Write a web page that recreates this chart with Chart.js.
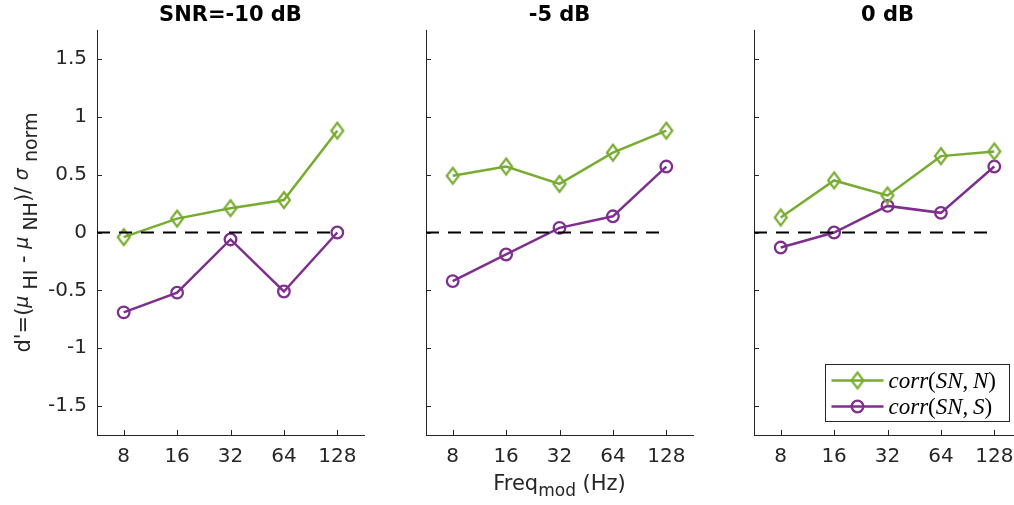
<!DOCTYPE html>
<html>
<head>
<meta charset="utf-8">
<script src="https://cdn.jsdelivr.net/npm/chart.js@4"></script>
<style>
  html, body { margin: 0; padding: 0; background: #fff; overflow: hidden; width: 1014px; height: 505px; position: relative; }
  canvas { position: absolute; top: 0; }
</style>
</head>
<body>
<canvas id="panel1"></canvas>
<canvas id="panel2"></canvas>
<canvas id="panel3"></canvas>
<script>
// ---- data ----
const panelTitles = ['SNR=-10 dB', '-5 dB', '0 dB'];
const freqMod = [8, 16, 32, 64, 128];
const corrSN_N_m10 = [-0.04, 0.12, 0.21, 0.28, 0.88];
const corrSN_S_m10 = [-0.69, -0.52, -0.06, -0.51, 0.00];
const corrSN_N_m5 = [0.49, 0.57, 0.42, 0.69, 0.88];
const corrSN_S_m5 = [-0.42, -0.19, 0.04, 0.14, 0.57];
const corrSN_N_0 = [0.13, 0.45, 0.32, 0.66, 0.70];
const corrSN_S_0 = [-0.13, 0.00, 0.23, 0.17, 0.57];
const yTickValues = [-1.5, -1, -0.5, 0, 0.5, 1, 1.5];
const seriesLabels = ['corr(SN,N)', 'corr(SN,S)'];

// ---- style ----
const GREEN = '#77AC30';
const PURPLE = '#7E2F8E';
const AXIS = '#262626';
const SANS = '"DejaVu Sans", sans-serif';
const SERIF = '"Liberation Serif", "DejaVu Serif", serif';

// MATLAB-style diamond marker (taller than wide)
function diamondMarker(color) {
  const c = document.createElement('canvas');
  c.width = 18; c.height = 22;
  const g = c.getContext('2d');
  g.strokeStyle = color; g.lineWidth = 2.2;
  g.beginPath();
  g.moveTo(9, 3); g.lineTo(15, 11); g.lineTo(9, 19); g.lineTo(3, 11); g.closePath();
  g.stroke();
  return c;
}

const toXY = ys => ys.map((y, i) => ({ x: Math.log2(freqMod[i]), y }));
const xMin = Math.log2(freqMod[0]) - 0.5;
const xMax = Math.log2(freqMod[freqMod.length - 1]) + 0.5;

// draws text where letters are math-italic and punctuation upright
function drawMath(ctx, str, x, y, size) {
  const runs = str.match(/[A-Za-z]+|[^A-Za-z]/g);
  ctx.textAlign = 'left';
  for (const r of runs) {
    const italic = /[A-Za-z]/.test(r);
    ctx.font = (italic ? 'italic ' : '') + size + 'px ' + SERIF;
    ctx.fillText(r, x, y);
    x += ctx.measureText(r).width + (r === ',' ? size * 0.2 : 0);
  }
}

// sequence of text runs with baseline offsets
function drawRuns(ctx, runs, cx, baseline) {
  let total = 0;
  for (const r of runs) { ctx.font = r.font; total += ctx.measureText(r.t).width; }
  let x = cx - total / 2;
  ctx.textAlign = 'left';
  for (const r of runs) {
    ctx.font = r.font;
    ctx.fillText(r.t, x, baseline + (r.dy || 0));
    x += ctx.measureText(r.t).width;
  }
}

const panelDecor = {
  id: 'panelDecor',
  afterDraw(chart, args, opts) {
    const { ctx, chartArea: ca, scales } = chart;
    ctx.save();
    // inward tick marks
    ctx.strokeStyle = AXIS; ctx.lineWidth = 1;
    ctx.beginPath();
    for (const t of scales.y.ticks) {
      const py = Math.round(scales.y.getPixelForValue(t.value)) + 0.5;
      ctx.moveTo(ca.left, py); ctx.lineTo(ca.left + 5, py);
    }
    for (const t of scales.x.ticks) {
      const px = Math.round(scales.x.getPixelForValue(t.value)) + 0.5;
      ctx.moveTo(px, ca.bottom); ctx.lineTo(px, ca.bottom - 5);
    }
    ctx.stroke();

    // panel title
    ctx.fillStyle = '#000';
    ctx.textAlign = 'center';
    ctx.textBaseline = 'alphabetic';
    ctx.font = 'bold 21px ' + SANS;
    ctx.fillText(opts.title, (ca.left + ca.right) / 2, 21);

    ctx.fillStyle = AXIS;
    if (opts.xLabel) {
      const main = '21px ' + SANS, sub = '17px ' + SANS;
      drawRuns(ctx, [
        { t: 'Freq', font: main },
        { t: 'mod', font: sub, dy: 6 },
        { t: ' (Hz)', font: main }
      ], (ca.left + ca.right) / 2, 490);
    }
    if (opts.yLabel) {
      const main = '21px ' + SANS, sub = '19px ' + SANS, greek = 'italic 19px ' + SANS;
      ctx.save();
      ctx.translate(30, (ca.top + ca.bottom) / 2);
      ctx.rotate(-Math.PI / 2);
      drawRuns(ctx, [
        { t: "d'=(", font: main },
        { t: 'μ', font: greek, dy: -2 },
        { t: ' HI', font: sub, dy: 7 },
        { t: ' - ', font: main },
        { t: 'μ', font: greek, dy: -2 },
        { t: ' NH', font: sub, dy: 7 },
        { t: ')/ ', font: main },
        { t: 'σ', font: greek, dy: -2 },
        { t: ' norm', font: sub, dy: 7 }
      ], 0, 0);
      ctx.restore();
    }
    if (opts.legend) {
      const items = chart.data.datasets.filter(d => d.inLegend);
      const w = 184, h = 57;
      const bx = Math.round(ca.right - 12 - w) + 0.5;
      const by = Math.round(ca.bottom - 14 - h) + 0.5;
      ctx.fillStyle = '#fff';
      ctx.fillRect(bx, by, w, h);
      ctx.strokeStyle = AXIS; ctx.lineWidth = 1;
      ctx.strokeRect(bx, by, w, h);
      items.forEach((d, i) => {
        const ry = by + 16 + i * 26;
        ctx.strokeStyle = d.borderColor; ctx.lineWidth = d.borderWidth;
        ctx.beginPath(); ctx.moveTo(bx + 6, ry); ctx.lineTo(bx + 58, ry); ctx.stroke();
        const mx = bx + 32;
        if (d.pointStyle === 'circle') {
          ctx.lineWidth = d.pointBorderWidth;
          ctx.beginPath(); ctx.arc(mx, ry, d.pointRadius, 0, Math.PI * 2); ctx.stroke();
        } else {
          ctx.drawImage(d.pointStyle, mx - d.pointStyle.width / 2, ry - d.pointStyle.height / 2);
        }
        ctx.fillStyle = '#000';
        ctx.textBaseline = 'middle';
        drawMath(ctx, d.label, bx + 63, ry + 1, 23);
      });
    }
    ctx.restore();
  }
};

const axisX = [97, 426, 754];
const yAxisW = 97, plotW = 267, canvasW = yAxisW + plotW + 20;
const panelData = [
  [corrSN_N_m10, corrSN_S_m10],
  [corrSN_N_m5, corrSN_S_m5],
  [corrSN_N_0, corrSN_S_0]
];

panelData.forEach(([nVals, sVals], p) => {
  const cv = document.getElementById('panel' + (p + 1));
  cv.width = canvasW; cv.height = 505;
  cv.style.width = canvasW + 'px'; cv.style.height = '505px';
  cv.style.left = (axisX[p] - yAxisW) + 'px';

  new Chart(cv, {
    type: 'line',
    data: {
      datasets: [
        {
          label: 'zero',
          data: [{ x: xMin, y: 0 }, { x: Math.log2(freqMod[freqMod.length - 1]), y: 0 }],
          borderColor: '#000', borderWidth: 2, borderDash: [13, 9],
          pointRadius: 0, fill: false
        },
        {
          label: seriesLabels[0], inLegend: true,
          data: toXY(nVals),
          borderColor: GREEN, borderWidth: 2.5,
          pointStyle: diamondMarker(GREEN), pointRadius: 8,
          pointBorderColor: GREEN, pointBackgroundColor: 'rgba(0,0,0,0)', fill: false
        },
        {
          label: seriesLabels[1], inLegend: true,
          data: toXY(sVals),
          borderColor: PURPLE, borderWidth: 2.5,
          pointStyle: 'circle', pointRadius: 5.8, pointBorderWidth: 2.3,
          pointBorderColor: PURPLE, pointBackgroundColor: 'rgba(0,0,0,0)', fill: false
        }
      ]
    },
    options: {
      responsive: false,
      animation: false,
      devicePixelRatio: 1,
      layout: { padding: { top: 30, right: 20, left: 0, bottom: 0 } },
      plugins: {
        legend: { display: false },
        tooltip: { enabled: false },
        panelDecor: {
          title: panelTitles[p],
          yLabel: p === 0,
          xLabel: p === 1,
          legend: p === 2
        }
      },
      scales: {
        x: {
          type: 'linear', min: xMin, max: xMax,
          afterBuildTicks: s => { s.ticks = freqMod.map(f => ({ value: Math.log2(f) })); },
          afterFit: s => { s.height = 70; },
          grid: { display: false, drawTicks: false },
          border: { display: true, color: AXIS, width: 1 },
          ticks: {
            padding: 10, color: AXIS, font: { family: SANS, size: 20 },
            callback: v => String(freqMod[freqMod.findIndex(f => Math.abs(Math.log2(f) - v) < 1e-6)]),
            maxRotation: 0, autoSkip: false
          }
        },
        y: {
          type: 'linear', min: -1.75, max: 1.75,
          afterBuildTicks: s => { s.ticks = yTickValues.map(v => ({ value: v })); },
          afterFit: s => { s.width = yAxisW; },
          grid: { display: false, drawTicks: false },
          border: { display: true, color: AXIS, width: 1 },
          ticks: {
            display: p === 0, padding: 10, color: AXIS, font: { family: SANS, size: 20 },
            callback: v => String(v)
          }
        }
      }
    },
    plugins: [panelDecor]
  });
});
</script>
</body>
</html>
